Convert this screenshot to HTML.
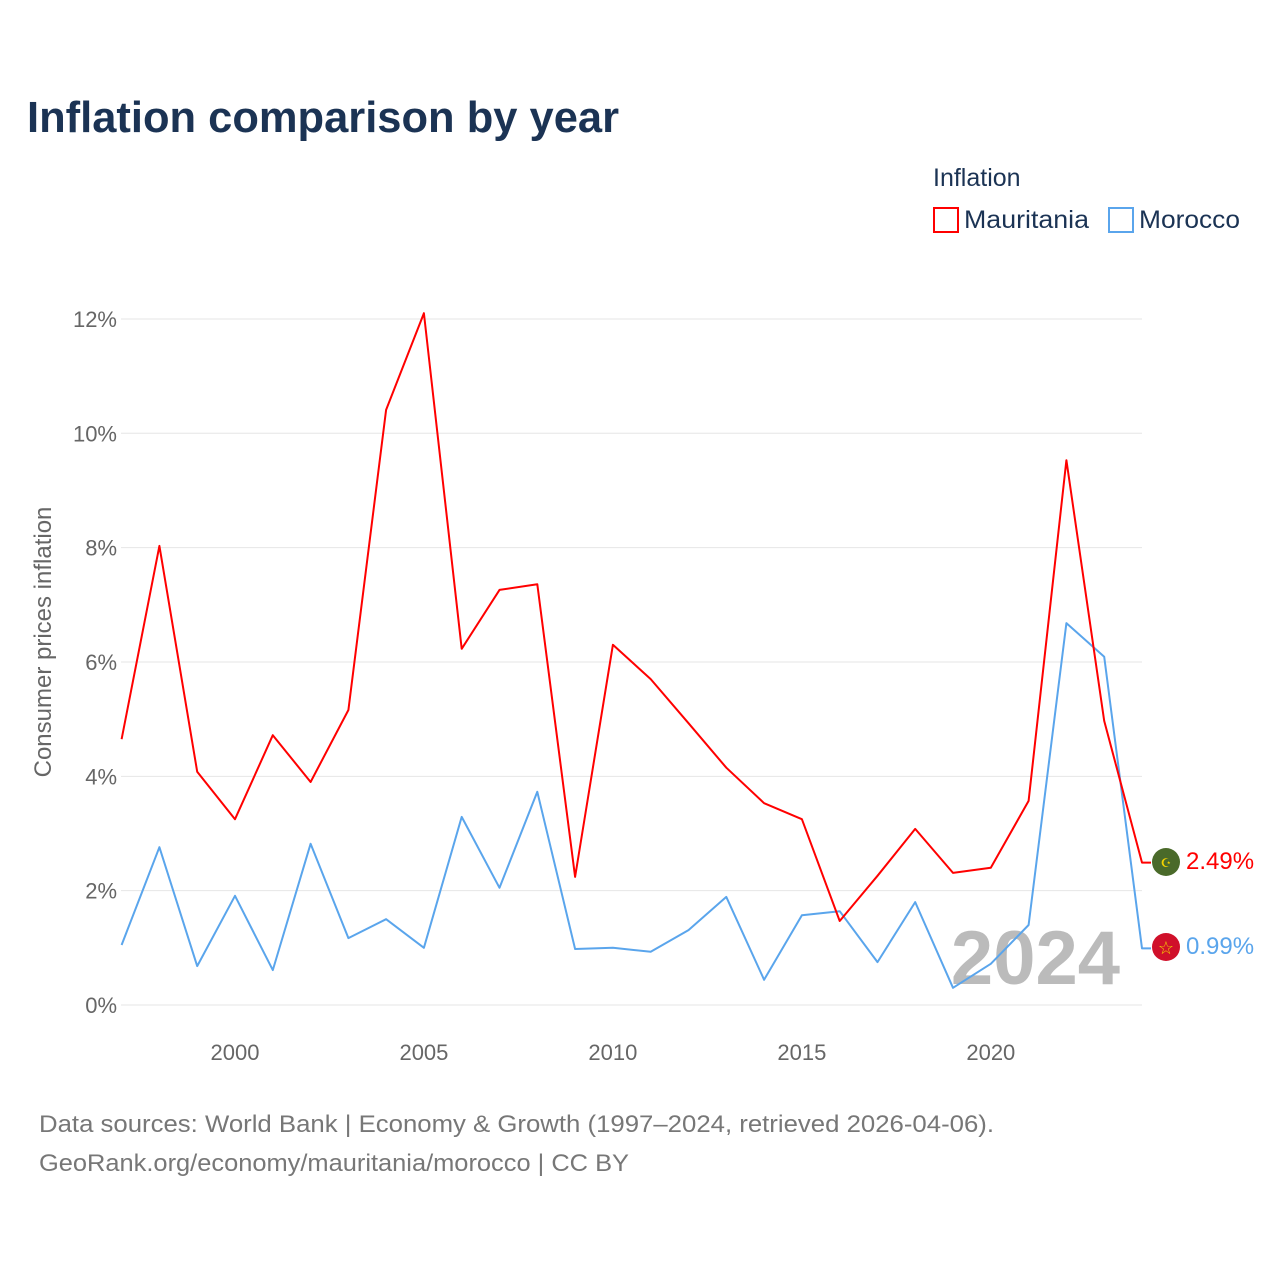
<!DOCTYPE html>
<html><head><meta charset="utf-8"><style>
body{margin:0;background:#fff;font-family:"Liberation Sans",sans-serif;}
</style></head><body>
<svg width="1280" height="1280" viewBox="0 0 1280 1280" xmlns="http://www.w3.org/2000/svg">
<rect width="1280" height="1280" fill="#fff"/>
<text x="27" y="132" font-size="44" font-weight="bold" fill="#1b3354" textLength="592" lengthAdjust="spacingAndGlyphs">Inflation comparison by year</text>
<text x="933" y="186" font-size="25" fill="#1b3354">Inflation</text>
<g><rect x="934" y="208" width="24" height="24" fill="none" stroke="#f00" stroke-width="2"/><text x="964" y="228" font-size="25" fill="#1b3354" textLength="125" lengthAdjust="spacingAndGlyphs">Mauritania</text></g>
<g><rect x="1109" y="208" width="24" height="24" fill="none" stroke="#5aa5ec" stroke-width="2"/><text x="1139" y="228" font-size="25" fill="#1b3354" textLength="101" lengthAdjust="spacingAndGlyphs">Morocco</text></g>
<g id="grid"></g>
<g id="yticks"></g>
<g id="xticks"></g>
<text transform="translate(51,642) rotate(-90)" text-anchor="middle" font-size="24" fill="#666">Consumer prices inflation</text>
<text x="1120" y="984" text-anchor="end" font-size="76" font-weight="bold" fill="#bbb">2024</text>
<g id="series"></g>
<g><circle cx="1166" cy="862" r="14" fill="#4a6a2a"/><text x="1166" y="867" text-anchor="middle" font-size="12" fill="#f5d300">☪</text></g>
<g><circle cx="1166" cy="947" r="14" fill="#d0102a"/><text x="1166" y="954" text-anchor="middle" font-size="18" fill="#f5d300">☆</text></g>
<text x="1186" y="869" font-size="24" fill="#f00">2.49%</text>
<text x="1186" y="954" font-size="24" fill="#5aa5ec">0.99%</text>
<text x="39" y="1132" font-size="24" fill="#777" textLength="955" lengthAdjust="spacingAndGlyphs">Data sources: World Bank | Economy &amp; Growth (1997–2024, retrieved 2026-04-06).</text>
<text x="39" y="1171" font-size="24" fill="#777" textLength="590" lengthAdjust="spacingAndGlyphs">GeoRank.org/economy/mauritania/morocco | CC BY</text>
</svg>
<script>
const years=[1997,1998,1999,2000,2001,2002,2003,2004,2005,2006,2007,2008,2009,2010,2011,2012,2013,2014,2015,2016,2017,2018,2019,2020,2021,2022,2023,2024];
const mauritania=[4.65,8.03,4.08,3.25,4.72,3.90,5.16,10.41,12.10,6.23,7.26,7.36,2.24,6.30,5.70,4.93,4.15,3.53,3.25,1.47,2.26,3.08,2.31,2.40,3.57,9.53,4.97,2.49];
const morocco=[1.05,2.76,0.68,1.91,0.61,2.82,1.17,1.50,1.00,3.29,2.05,3.73,0.98,1.00,0.93,1.31,1.89,0.44,1.57,1.64,0.75,1.80,0.30,0.72,1.40,6.68,6.09,0.99];
const yTicks=[0,2,4,6,8,10,12];
const xTicks=[2000,2005,2010,2015,2020];
const NS="http://www.w3.org/2000/svg";
const X=y=>121.6+(y-1997)*(1142-121.6)/27;
const Y=v=>1005-v*57.17;
function mk(t,a,p){const e=document.createElementNS(NS,t);for(const k in a)e.setAttribute(k,a[k]);p.appendChild(e);return e;}
const grid=document.getElementById('grid'),yt=document.getElementById('yticks'),xt=document.getElementById('xticks'),se=document.getElementById('series');
yTicks.forEach(v=>{
 const l=mk('line',{x1:121,x2:1142,y1:Y(v),y2:Y(v),stroke:'#e6e6e6','stroke-width':1},grid);
 
 
 const t=mk('text',{x:117,y:Y(v)+8,'text-anchor':'end','font-size':22,fill:'#666'},yt);
 t.textContent=v+'%';
 
 
});
xTicks.forEach(v=>{
 const t=mk('text',{x:X(v),y:1060,'text-anchor':'middle','font-size':22,fill:'#666'},xt);
 t.textContent=v;
 
 
});
function line(vals,color,name){
 let d=vals.map((v,i)=>(i?'L':'M')+X(years[i]).toFixed(1)+','+Y(v).toFixed(1)).join(' ');
 d+=' L'+(X(years[years.length-1])+9)+','+Y(vals[vals.length-1]).toFixed(1);
 const p=mk('path',{d:d,fill:'none',stroke:color,'stroke-width':2,'stroke-linejoin':'round'},se);
 
 
}
line(morocco,'#5aa5ec','morocco-line');
line(mauritania,'#f00','mauritania-line');
</script>
</body></html>
